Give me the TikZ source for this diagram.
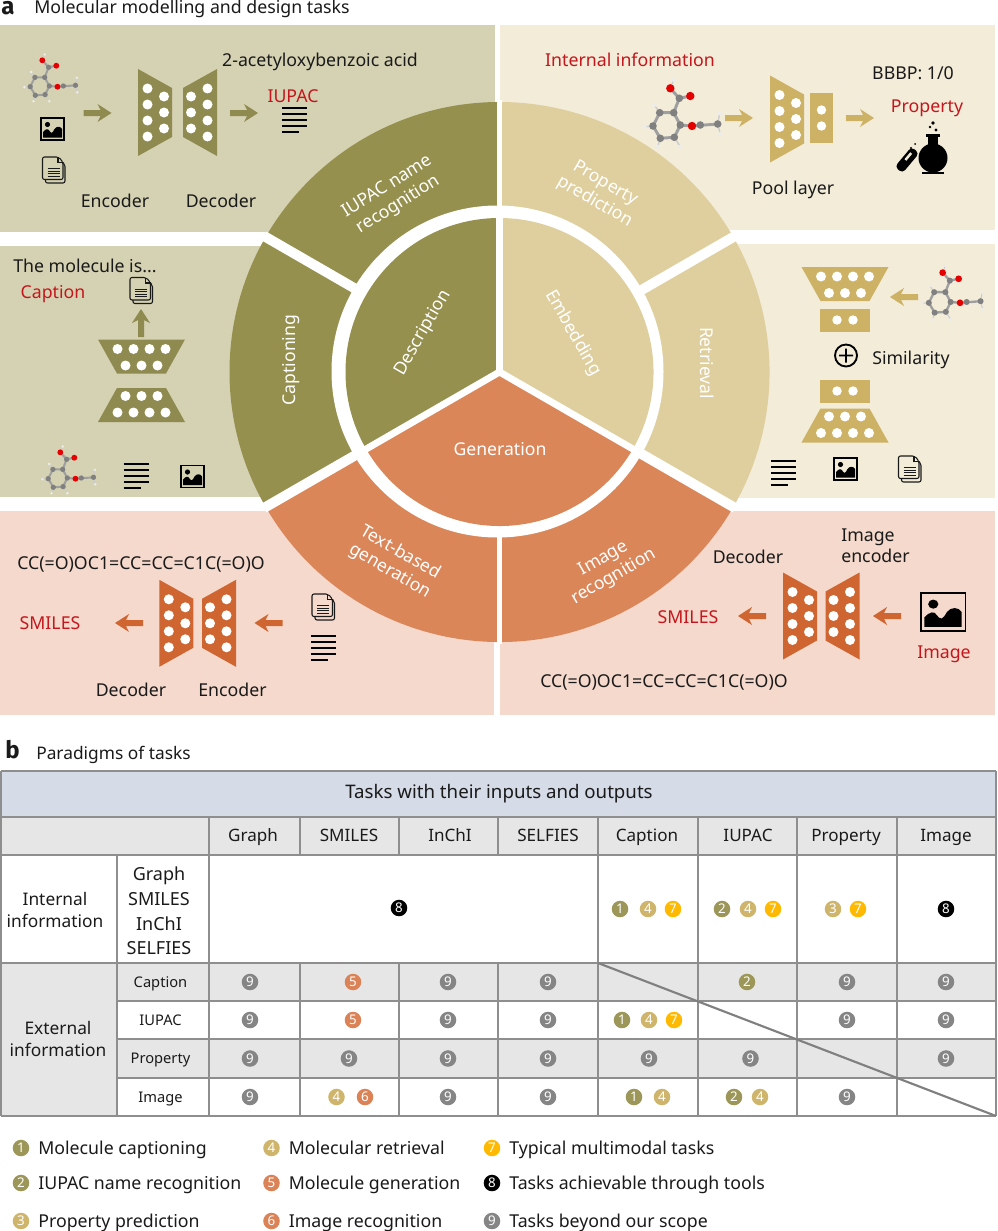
\documentclass[tikz,border=0pt]{standalone}
\usepackage{fontspec}
\setmainfont{Noto Sans}
\newfontfamily\tagfont{Fira Sans}
\usepackage{xcolor}
\usetikzlibrary{positioning}
\definecolor{oliveDark}{HTML}{96904F}
\definecolor{olivePanel}{HTML}{D5D2B3}
\definecolor{oliveNet}{HTML}{8F8A4F}
\definecolor{tanWheel}{HTML}{E0CF9E}
\definecolor{tanPanel}{HTML}{F2ECD9}
\definecolor{tanNet}{HTML}{CDB266}
\definecolor{orangeWheel}{HTML}{DA8659}
\definecolor{orangePanel}{HTML}{F5D9CC}
\definecolor{orangeNet}{HTML}{CF6632}
\definecolor{taskRed}{HTML}{C4161C}
\definecolor{gridGray}{HTML}{8E8E8E}
\definecolor{cellGray}{HTML}{E6E6E6}
\definecolor{cellBlue}{HTML}{D5DBE7}
\definecolor{badgeOlive}{HTML}{9C9658}
\definecolor{badgeTan}{HTML}{CFB56C}
\definecolor{badgeOrange}{HTML}{DB8357}
\definecolor{badgeYellow}{HTML}{FFB900}
\definecolor{badgeGray}{HTML}{858585}
\definecolor{inkBlack}{HTML}{1A1A1A}
\tikzset{
  tasklabel/.style={text=inkBlack,font=\fontsize{13.3}{15.8}\selectfont,inner sep=0pt,align=center},
  redlabel/.style={tasklabel,text=taskRed},
  taglabel/.style={tasklabel,font=\fontsize{18}{20}\selectfont\tagfont\bfseries,anchor=west},
  wheellabel/.style={text=white,font=\fontsize{13.2}{15.8}\selectfont,inner sep=0pt,align=center},
  celllabel/.style={tasklabel,font=\fontsize{12.8}{14}\selectfont},
  rowlabel/.style={tasklabel,font=\fontsize{11}{13}\selectfont},
  badge/.style={circle,fill=#1,text=white,inner sep=0pt,minimum size=12.4pt,font=\fontsize{10}{10}\selectfont},
  gridline/.style={gridGray,line width=1.5pt},
  spoke/.style={white,line width=#1},
}
% network parts: x, y, rotation, colour
\newcommand{\tasktrap}[4]{%
  \begin{scope}[shift={(#1,#2)},rotate=#3]
    \fill[#4] (-17,-43.5) -- (17,-24.5) -- (17,24.5) -- (-17,43.5) -- cycle;
    \foreach \dy in {-24,-8,8,24} \fill[white] (-7.5,\dy) circle (5);
    \foreach \dy in {-16,0,16} \fill[white] (9,\dy) circle (5);
  \end{scope}}
\newcommand{\taskpool}[4]{%
  \begin{scope}[shift={(#1,#2)},rotate=#3]
    \fill[#4] (-11.5,-25) rectangle (11.5,25);
    \foreach \dy in {-8,8} \fill[white] (0,\dy) circle (4.7);
  \end{scope}}
\newcommand{\taskarrow}[4]{%
  \begin{scope}[shift={(#1,#2)},rotate=#3]
    \fill[#4] (-14,-3) -- (3,-3) -- (0,-9) -- (14,0) -- (0,9) -- (3,3) -- (-14,3) -- cycle;
  \end{scope}}
% icons: x, y
\newcommand{\tasklines}[2]{%
  \begin{scope}[shift={(#1,#2)}]
    \foreach \dy in {-12,-6,0,6} \draw[black,line width=1.5pt] (-12.5,\dy) -- (12.5,\dy);
    \draw[black,line width=1.5pt] (-12.5,12) -- (4.5,12);
  \end{scope}}
\newcommand{\taskimage}[4]{%
  \begin{scope}[shift={(#1,#2)},xscale=#3,yscale=#4]
    \draw[black,line width=1.4pt] (-11.5,-11) rectangle (11.5,11);
    \fill[black] (-5,-4.5) circle (2.6);
    \fill[black] (-9.5,8.5) -- (-9.5,3) .. controls (-7,0) and (-4.5,-1) .. (-3,2) .. controls (-1,5) and (0,4) .. (2,0)
      .. controls (4,-3) and (8,-3) .. (9.5,0) -- (9.5,8.5) -- cycle;
  \end{scope}}
\newcommand{\taskdoc}[2]{%
  \begin{scope}[shift={(#1,#2)}]
    \draw[inkBlack,line width=.8pt,rounded corners=1.5] (-11,-13) -- (5,-13) -- (9.5,-8) -- (9.5,9.5) -- (-11,9.5) -- cycle;
    \draw[inkBlack,line width=.8pt,rounded corners=1.5] (-8,9.5) -- (-8,13) -- (11.5,13) -- (11.5,-5.5) -- (9.5,-7.5);
    \draw[inkBlack,line width=.8pt] (4.5,-13) -- (4.5,-7.5) -- (9.5,-7.5);
    \foreach \dy in {-1.5,1,3.5,6} \draw[inkBlack,line width=.6pt] (-6,\dy) -- (6,\dy);
  \end{scope}}
\newcommand{\taskmol}[3]{%
  \begin{scope}[shift={(#1,#2)},scale=#3]
    \draw[gray!75,line width=#3*2.2pt] (6.7,-12.3) -- (-7.3,-12.3) -- (-14,1) -- (-6.7,13.3) -- (7.3,12.3) -- (13.3,0) -- cycle;
    \draw[gray!75,line width=#3*2.2pt] (6.7,-12.3) -- (12.3,-26.7) -- (3.3,-36.7);
    \draw[gray!75,line width=#3*2.2pt] (12.3,-26.7) -- (23.3,-29);
    \draw[gray!75,line width=#3*2.2pt] (13.3,0) -- (25,1) -- (50.7,-1);
    \draw[gray!40,line width=#3*1pt] (3.3,-36.7) -- (6.7,-45) (-7.3,-12.3) -- (-12.7,-20) (-14,1) -- (-22.3,1.7)
      (-6.7,13.3) -- (-9.3,21.7) (7.3,12.3) -- (13.3,21.7) (50.7,-1) -- (52.7,-11.7) (50.7,-1) -- (53.3,9);
    \foreach \ax/\ay in {6.7/-12.3,-7.3/-12.3,-14/1,-6.7/13.3,7.3/12.3,13.3/0,12.3/-26.7,33.3/0,50.7/-1}
      \fill[gray] (\ax,\ay) circle (3.8);
    \foreach \ax/\ay in {3.3/-36.7,23.3/-29,25/1} \fill[red!90!black] (\ax,\ay) circle (4.2);
    \foreach \ax/\ay in {6.7/-45,-12.7/-20,-22.3/1.7,-9.3/21.7,13.3/21.7,52.7/-11.7,53.3/9}
      \fill[gray!15] (\ax,\ay) circle (2);
  \end{scope}}
\begin{document}
\begin{tikzpicture}[x=0.75pt,y=-0.75pt]
  \useasboundingbox (0,0) rectangle (997,1231);
  \node[taglabel] (tagA) at (1,8) {a};
  \node[tasklabel,anchor=west] (titleA) at (34,9) {Molecular modelling and design tasks};

  % panels
  \fill[olivePanel] (0,25) rectangle (495,232);
  \fill[tanPanel] (500,25) rectangle (995,230);
  \fill[olivePanel] (0,246) rectangle (300,497);
  \fill[tanPanel] (700,244) rectangle (995,498);
  \fill[orangePanel] (0,511) rectangle (494,715);
  \fill[orangePanel] (500,511) rectangle (995,715);

  % wheel
  \begin{scope}[shift={(499.5,372)},y=0.75pt]
    \coordinate (hub) at (0,0);
    \fill[oliveDark] (hub) -- (90:270) arc[start angle=90,end angle=210,radius=270] -- cycle;
    \fill[orangeWheel] (hub) -- (210:270) arc[start angle=210,end angle=330,radius=270] -- cycle;
    \fill[tanWheel] (hub) -- (-30:270) arc[start angle=-30,end angle=90,radius=270] -- cycle;
    \fill[white] (-2,0.5) circle (166);
    \fill[oliveDark] (hub) -- (90:154) arc[start angle=90,end angle=210,radius=154] -- cycle;
    \fill[orangeWheel] (hub) -- (210:154) arc[start angle=210,end angle=330,radius=154] -- cycle;
    \fill[tanWheel] (hub) -- (-30:154) arc[start angle=-30,end angle=90,radius=154] -- cycle;
    \foreach \ang in {90,210,330} \draw[spoke=5.2pt] (hub) -- (\ang:160);
    \foreach \ang in {30,150,210,330} \draw[spoke=7.5pt] (\ang:160) -- (\ang:272);
    \draw[spoke=4.4pt] (90:160) -- (90:272);
    \draw[spoke=4pt] (270:160) -- (270:272);
  \end{scope}
  \node[wheellabel,rotate=32] (wIupac) at (393,196) {IUPAC name\\recognition};
  \node[wheellabel,rotate=-30] (wProp) at (600,193) {Property\\prediction};
  \node[wheellabel,rotate=90] (wCapt) at (291,360) {Captioning};
  \node[wheellabel,rotate=-90] (wRetr) at (707,363) {Retrieval};
  \node[wheellabel,rotate=60] (wDesc) at (423,333) {Description};
  \node[wheellabel,rotate=-60] (wEmb) at (573,333) {Embedding};
  \node[wheellabel] (wGen) at (500,449) {Generation};
  \node[wheellabel,rotate=-30] (wText) at (395,562) {Text-based\\generation};
  \node[wheellabel,rotate=30] (wImg) at (609,568) {Image\\recognition};

  % IUPAC panel
  \taskmol{40}{86}{0.7}
  \taskimage{52.5}{129}{1}{1}
  \taskdoc{53.5}{170}
  \taskarrow{97.5}{113}{0}{oliveNet}
  \tasktrap{155}{112.5}{0}{oliveNet}
  \tasktrap{200}{112.5}{180}{oliveNet}
  \taskarrow{244}{113}{0}{oliveNet}
  \tasklines{294.5}{120}
  \node[tasklabel] (lblAcid) at (320,62) {2-acetyloxybenzoic acid};
  \node[redlabel] (lblIupac) at (293,96) {IUPAC};
  \node[tasklabel] (lblEncA) at (115,201) {Encoder};
  \node[tasklabel] (lblDecA) at (221,201) {Decoder};

  % property panel
  \taskmol{667}{125}{1}
  \taskarrow{739}{118}{0}{tanNet}
  \tasktrap{787}{119}{0}{tanNet}
  \taskpool{821.5}{118}{0}{tanNet}
  \taskarrow{860}{118}{0}{tanNet}
  \node[redlabel] (lblInt) at (630,60) {Internal information};
  \node[tasklabel] (lblBbbp) at (913,73) {BBBP: 1/0};
  \node[redlabel] (lblProp) at (927,108) {Property};
  \node[tasklabel] (lblPool) at (793,190) {Pool layer};
  % flask
  \fill[black] (933,158) circle (14.5);
  \fill[black] (928,135) rectangle (938,146);
  \fill[black] (926,134) rectangle (940,137);
  \fill[black] (922,172) rectangle (944,174);
  \begin{scope}[shift={(907,160)},rotate=50]
    \fill[black,rounded corners=3] (-13,-5) rectangle (13,5);
    \fill[tanPanel] (-1,-2.5) rectangle (8,0);
  \end{scope}
  \foreach \bx/\by/\br in {933/123/1.8,930/127/1.4,936/130/1.6,915/144/1,911/148/1.2}
    \fill[black] (\bx,\by) circle (\br);

  % caption panel
  \taskdoc{141}{290.5}
  \taskarrow{141}{323}{90}{oliveNet}
  \tasktrap{141.5}{356.5}{-90}{oliveNet}
  \tasktrap{141.5}{405}{90}{oliveNet}
  \taskmol{58}{478}{0.7}
  \tasklines{136}{475.5}
  \taskimage{192.5}{476.5}{1}{1}
  \node[tasklabel,anchor=west] (lblMol) at (13,266) {The molecule is...};
  \node[redlabel] (lblCapt) at (53,294) {Caption};

  % retrieval panel
  \tasktrap{845}{284}{-90}{tanNet}
  \taskpool{845}{320}{90}{tanNet}
  \taskarrow{904}{297}{180}{tanNet}
  \taskmol{940}{302}{0.8}
  \draw[black,line width=1.4pt] (846,355.5) circle (11) (839,355.5) -- (853,355.5) (846,348.5) -- (846,362.5);
  \node[tasklabel,anchor=west] (lblSim) at (872,360) {Similarity};
  \taskpool{845}{391}{90}{tanNet}
  \tasktrap{845}{425.5}{90}{tanNet}
  \tasklines{783.5}{473}
  \taskimage{845.5}{469}{1}{1}
  \taskdoc{909.5}{469}

  % text generation panel
  \node[tasklabel] (lblCcA) at (141,564) {CC(=O)OC1=CC=CC=C1C(=O)O};
  \node[redlabel] (lblSmA) at (50,623) {SMILES};
  \taskarrow{129}{623}{180}{orangeNet}
  \tasktrap{176.3}{623.3}{0}{orangeNet}
  \tasktrap{219}{623.3}{180}{orangeNet}
  \taskarrow{268.5}{623}{180}{orangeNet}
  \taskdoc{323}{607}
  \tasklines{323.5}{647.5}
  \node[tasklabel] (lblDecB) at (131,690) {Decoder};
  \node[tasklabel] (lblEncB) at (232.5,690) {Encoder};

  % image panel
  \node[redlabel] (lblSmB) at (688,617) {SMILES};
  \taskarrow{752}{616}{180}{orangeNet}
  \tasktrap{800}{616}{0}{orangeNet}
  \tasktrap{842.5}{616}{180}{orangeNet}
  \taskarrow{887}{616}{180}{orangeNet}
  \taskimage{943}{612}{1.95}{1.75}
  \node[redlabel] (lblImg) at (944,654) {Image};
  \node[tasklabel] (lblDecC) at (748,556.5) {Decoder};
  \node[tasklabel,align=left,anchor=west] (lblEncC) at (841,546) {Image\\encoder};
  \node[tasklabel] (lblCcB) at (664,682.5) {CC(=O)OC1=CC=CC=C1C(=O)O};

  \node[taglabel] (tagB) at (5,750) {b};
  \node[tasklabel,font=\fontsize{13}{15}\selectfont,anchor=west] (titleB) at (36,755) {Paradigms of tasks};

  % table fills
  \fill[cellBlue] (1,771) rectangle (996,817);
  \fill[cellGray] (1,817) rectangle (996,855);
  \fill[cellGray] (1,963) rectangle (996,1001);
  \fill[cellGray] (1,1039) rectangle (996,1078);
  \fill[cellGray] (1,963) rectangle (117,1116);
  % table lines
  \foreach \ry in {771,817,855,963,1116} \draw[gridline] (1,\ry) -- (996,\ry);
  \foreach \ry in {1001,1039,1078} \draw[gridline] (117,\ry) -- (996,\ry);
  \foreach \cx in {1,996} \draw[gridline] (\cx,771) -- (\cx,1116);
  \foreach \cx in {209,299.5,399,498} {
    \draw[gridline] (\cx,817) -- (\cx,855);
    \draw[gridline] (\cx,963) -- (\cx,1116);
  }
  \draw[gridline] (209,855) -- (209,963);
  \foreach \cx in {598,698,797,897} \draw[gridline] (\cx,817) -- (\cx,1116);
  \draw[gridline] (117,855) -- (117,1116);
  \draw[gridGray!90!black,line width=1.6pt] (598,963) -- (996,1116);

  \node[tasklabel,font=\fontsize{14}{16}\selectfont] (tblTitle) at (499,794) {Tasks with their inputs and outputs};
  \foreach \cx/\cname/\ctext in {253/Graph/Graph,349/Smiles/SMILES,450/Inchi/InChI,548/Selfies/SELFIES,647/Caption/Caption,748/Iupac/IUPAC,846/Property/Property,946/Image/Image}
    \node[celllabel,anchor=base] (col\cname) at (\cx,841) {\ctext};
  \node[tasklabel,font=\fontsize{13}{16}\selectfont] (rowInt) at (55,910) {Internal\\information};
  \node[celllabel,font=\fontsize{13.5}{18.4}\selectfont] (rowIntList) at (159,911) {Graph\\SMILES\\InChI\\SELFIES};
  \node[tasklabel,font=\fontsize{13}{16}\selectfont] (rowExt) at (58,1039) {External\\information};
  \foreach \ry/\rname in {987/Caption,1025/IUPAC,1063/Property,1102/Image}
    \node[rowlabel,anchor=base] (row\rname) at (160.5,\ry) {\rname};

  % badges in the table
  \foreach \bx/\by/\bn/\bc [count=\bi] in {399/908/8/black,
    620/909/1/badgeOlive,648/909/4/badgeTan,673/909/7/badgeYellow,
    722/909/2/badgeOlive,748/909/4/badgeTan,773/909/7/badgeYellow,
    833/909/3/badgeTan,858/909/7/badgeYellow,946/909/8/black,
    250/982/9/badgeGray,353/982/5/badgeOrange,448/982/9/badgeGray,548/982/9/badgeGray,
    747/982/2/badgeOlive,847/982/9/badgeGray,946/982/9/badgeGray,
    250/1020/9/badgeGray,353/1020/5/badgeOrange,448/1020/9/badgeGray,548/1020/9/badgeGray,
    622/1020/1/badgeOlive,649/1020/4/badgeTan,674/1020/7/badgeYellow,847/1020/9/badgeGray,946/1020/9/badgeGray,
    250/1058.5/9/badgeGray,349/1058.5/9/badgeGray,448/1058.5/9/badgeGray,548/1058.5/9/badgeGray,
    649/1058.5/9/badgeGray,750.5/1058.5/9/badgeGray,946/1058.5/9/badgeGray,
    250/1097/9/badgeGray,336.5/1097/4/badgeTan,365/1097/6/badgeOrange,448/1097/9/badgeGray,548/1097/9/badgeGray,
    634/1097/1/badgeOlive,662/1097/4/badgeTan,734/1097/2/badgeOlive,760/1097/4/badgeTan,847/1097/9/badgeGray}
    \node[badge=\bc] (cell\bi) at (\bx,\by) {\bn};

  % legend
  \foreach \bx/\by/\bn/\bc/\ltext in {21/1148/1/badgeOlive/Molecule captioning,21/1183/2/badgeOlive/IUPAC name recognition,21/1221/3/badgeTan/Property prediction,
    271.5/1148/4/badgeTan/Molecular retrieval,271.5/1183/5/badgeOrange/Molecule generation,271.5/1221/6/badgeOrange/Image recognition,
    492/1148/7/badgeYellow/Typical multimodal tasks,492/1183/8/black/Tasks achievable through tools,492/1221/9/badgeGray/Tasks beyond our scope} {
    \node[badge=\bc] (key\bn) at (\bx,\by) {\bn};
    \node[tasklabel,anchor=base west] (keytext\bn) at ([xshift=12.8pt,yshift=-4.6pt]key\bn.center) {\ltext};
  }
\end{tikzpicture}
\end{document}
